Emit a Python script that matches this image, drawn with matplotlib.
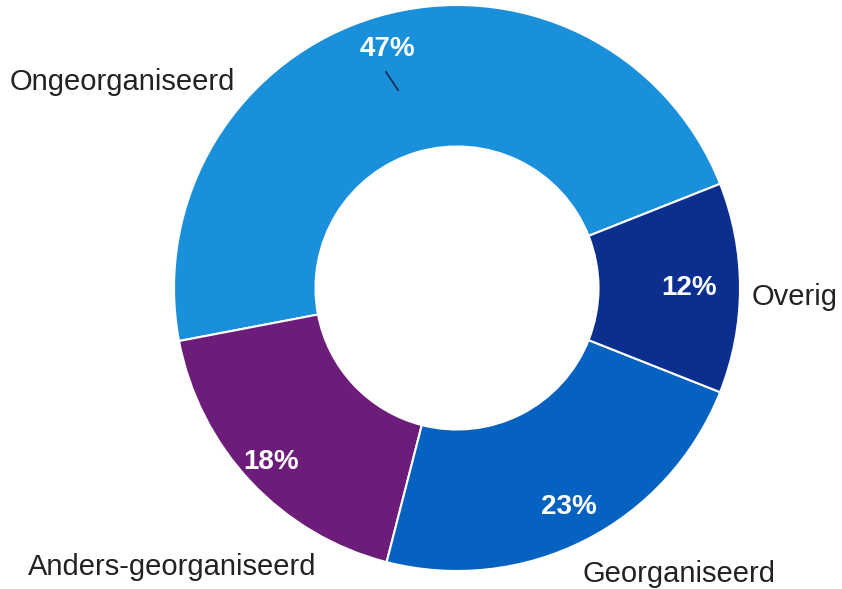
import numpy as np
import matplotlib
matplotlib.use("Agg")
import matplotlib.pyplot as plt

categories = ["Ongeorganiseerd", "Anders-georganiseerd", "Georganiseerd", "Overig"]
values = [47, 18, 23, 12]
colors = ["#1a90db", "#6b1d79", "#0562c0", "#0a2f8f"]

W, H = 842, 589
fig = plt.figure(figsize=(W / 100, H / 100), dpi=100)
ax = fig.add_axes([0, 0, 1, 1])

cx, cy = 457, H - 288
R = 283
wedges, _ = ax.pie(values, colors=colors, startangle=21.6, counterclock=True,
                   center=(cx, cy), radius=R, frame=True,
                   wedgeprops=dict(width=R * 0.5, edgecolor="white", linewidth=1.5))
ax.set_xlim(0, W)
ax.set_ylim(0, H)
ax.set_aspect("equal")
ax.axis("off")

font = "Liberation Sans"
rfrac = [0.88, 0.90, 0.87, 0.82]
for w, v, rf in zip(wedges, values, rfrac):
    mid = np.deg2rad((w.theta1 + w.theta2) / 2)
    x = cx + R * rf * np.cos(mid)
    y = cy + R * rf * np.sin(mid)
    ax.text(x, y, f"{v}%", color="white", fontsize=20, fontweight="bold",
            family=font, ha="center", va="center")

# leader line for 47%
ax.plot([386, 398], [H - 72, H - 90], color="#1a2a50", lw=1.2)

lab_pos = {"Ongeorganiseerd": (10, 82), "Anders-georganiseerd": (28, 567),
           "Georganiseerd": (583, 574), "Overig": (752, 297)}
for c in categories:
    x, y = lab_pos[c]
    ax.text(x, H - y, c, color="#222222", fontsize=21, family=font,
            ha="left", va="center")

fig.savefig("out.png", dpi=100)
